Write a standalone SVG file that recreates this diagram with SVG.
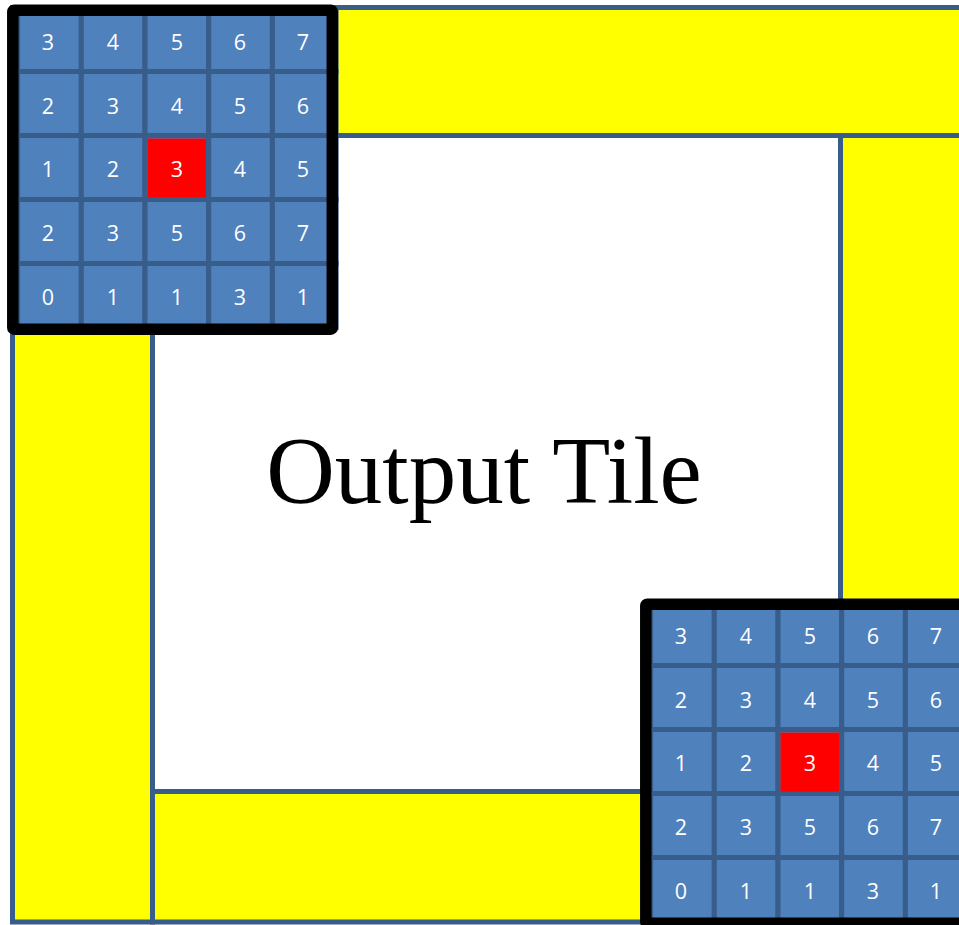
<svg xmlns="http://www.w3.org/2000/svg" width="959" height="925" viewBox="0 0 959 925">
<style>
.band{fill:#ffff00;stroke:#385d8a;stroke-width:5}
.cell{fill:#4f81bd;stroke:#385d8a;stroke-width:5}
.hot{fill:#ff0000}
.frame{fill:none;stroke:#000000;stroke-width:11.5}
.num{font-family:"Open Sans","Noto Sans",sans-serif;font-size:21.5px;fill:#ffffff;text-anchor:middle}
.title{font-family:"Liberation Serif","Times New Roman",serif;font-size:95px;fill:#000000;text-anchor:middle}
</style>
<rect width="959" height="925" fill="#ffffff"/>
<g id="halo">
<rect class="band" x="12.5" y="7.5" width="960" height="128"/>
<rect class="band" x="840.5" y="135.5" width="130" height="520"/>
<rect class="band" x="12.5" y="135.5" width="140" height="786.5"/>
<rect class="band" x="152.5" y="791.5" width="560" height="130.5"/>
</g>
<g id="output-tile">
<text class="title" x="484" y="503">Output Tile</text>
</g>
<g id="window-top-left">
<g>
<rect class="cell" x="17.6" y="7.5" width="63.7" height="64"/><rect class="cell" x="81.3" y="7.5" width="63.7" height="64"/><rect class="cell" x="145" y="7.5" width="63.7" height="64"/><rect class="cell" x="208.7" y="7.5" width="63.7" height="64"/><rect class="cell" x="272.4" y="7.5" width="63.7" height="64"/>
<rect class="cell" x="17.6" y="71.5" width="63.7" height="64"/><rect class="cell" x="81.3" y="71.5" width="63.7" height="64"/><rect class="cell" x="145" y="71.5" width="63.7" height="64"/><rect class="cell" x="208.7" y="71.5" width="63.7" height="64"/><rect class="cell" x="272.4" y="71.5" width="63.7" height="64"/>
<rect class="cell" x="17.6" y="135.5" width="63.7" height="64"/><rect class="cell" x="81.3" y="135.5" width="63.7" height="64"/><rect class="cell" x="145" y="135.5" width="63.7" height="64"/><rect class="cell" x="208.7" y="135.5" width="63.7" height="64"/><rect class="cell" x="272.4" y="135.5" width="63.7" height="64"/>
<rect class="cell" x="17.6" y="199.5" width="63.7" height="64"/><rect class="cell" x="81.3" y="199.5" width="63.7" height="64"/><rect class="cell" x="145" y="199.5" width="63.7" height="64"/><rect class="cell" x="208.7" y="199.5" width="63.7" height="64"/><rect class="cell" x="272.4" y="199.5" width="63.7" height="64"/>
<rect class="cell" x="17.6" y="263.5" width="63.7" height="64"/><rect class="cell" x="81.3" y="263.5" width="63.7" height="64"/><rect class="cell" x="145" y="263.5" width="63.7" height="64"/><rect class="cell" x="208.7" y="263.5" width="63.7" height="64"/><rect class="cell" x="272.4" y="263.5" width="63.7" height="64"/>
<rect class="hot" x="147.5" y="138.5" width="58.5" height="59"/>
</g>
<g>
<text class="num" x="48" y="50">3</text><text class="num" x="113" y="50">4</text><text class="num" x="177" y="50">5</text><text class="num" x="240" y="50">6</text><text class="num" x="303" y="50">7</text>
<text class="num" x="48" y="114">2</text><text class="num" x="113" y="114">3</text><text class="num" x="177" y="114">4</text><text class="num" x="240" y="114">5</text><text class="num" x="303" y="114">6</text>
<text class="num" x="48" y="177">1</text><text class="num" x="113" y="177">2</text><text class="num" x="177" y="177">3</text><text class="num" x="240" y="177">4</text><text class="num" x="303" y="177">5</text>
<text class="num" x="48" y="241">2</text><text class="num" x="113" y="241">3</text><text class="num" x="177" y="241">5</text><text class="num" x="240" y="241">6</text><text class="num" x="303" y="241">7</text>
<text class="num" x="48" y="305">0</text><text class="num" x="113" y="305">1</text><text class="num" x="177" y="305">1</text><text class="num" x="240" y="305">3</text><text class="num" x="303" y="305">1</text>
</g>
<rect class="frame" x="12.8" y="10.2" width="319.5" height="319" rx="1.5"/>
</g>
<g id="window-bottom-right" transform="translate(633,594)">
<g>
<rect class="cell" x="17.6" y="7.5" width="63.7" height="64"/><rect class="cell" x="81.3" y="7.5" width="63.7" height="64"/><rect class="cell" x="145" y="7.5" width="63.7" height="64"/><rect class="cell" x="208.7" y="7.5" width="63.7" height="64"/><rect class="cell" x="272.4" y="7.5" width="63.7" height="64"/>
<rect class="cell" x="17.6" y="71.5" width="63.7" height="64"/><rect class="cell" x="81.3" y="71.5" width="63.7" height="64"/><rect class="cell" x="145" y="71.5" width="63.7" height="64"/><rect class="cell" x="208.7" y="71.5" width="63.7" height="64"/><rect class="cell" x="272.4" y="71.5" width="63.7" height="64"/>
<rect class="cell" x="17.6" y="135.5" width="63.7" height="64"/><rect class="cell" x="81.3" y="135.5" width="63.7" height="64"/><rect class="cell" x="145" y="135.5" width="63.7" height="64"/><rect class="cell" x="208.7" y="135.5" width="63.7" height="64"/><rect class="cell" x="272.4" y="135.5" width="63.7" height="64"/>
<rect class="cell" x="17.6" y="199.5" width="63.7" height="64"/><rect class="cell" x="81.3" y="199.5" width="63.7" height="64"/><rect class="cell" x="145" y="199.5" width="63.7" height="64"/><rect class="cell" x="208.7" y="199.5" width="63.7" height="64"/><rect class="cell" x="272.4" y="199.5" width="63.7" height="64"/>
<rect class="cell" x="17.6" y="263.5" width="63.7" height="64"/><rect class="cell" x="81.3" y="263.5" width="63.7" height="64"/><rect class="cell" x="145" y="263.5" width="63.7" height="64"/><rect class="cell" x="208.7" y="263.5" width="63.7" height="64"/><rect class="cell" x="272.4" y="263.5" width="63.7" height="64"/>
<rect class="hot" x="147.5" y="138.5" width="58.5" height="59"/>
</g>
<g>
<text class="num" x="48" y="50">3</text><text class="num" x="113" y="50">4</text><text class="num" x="177" y="50">5</text><text class="num" x="240" y="50">6</text><text class="num" x="303" y="50">7</text>
<text class="num" x="48" y="114">2</text><text class="num" x="113" y="114">3</text><text class="num" x="177" y="114">4</text><text class="num" x="240" y="114">5</text><text class="num" x="303" y="114">6</text>
<text class="num" x="48" y="177">1</text><text class="num" x="113" y="177">2</text><text class="num" x="177" y="177">3</text><text class="num" x="240" y="177">4</text><text class="num" x="303" y="177">5</text>
<text class="num" x="48" y="241">2</text><text class="num" x="113" y="241">3</text><text class="num" x="177" y="241">5</text><text class="num" x="240" y="241">6</text><text class="num" x="303" y="241">7</text>
<text class="num" x="48" y="305">0</text><text class="num" x="113" y="305">1</text><text class="num" x="177" y="305">1</text><text class="num" x="240" y="305">3</text><text class="num" x="303" y="305">1</text>
</g>
<rect class="frame" x="12.8" y="10.2" width="319.5" height="319" rx="1.5"/>
</g>
<g id="connectors"/>
</svg>
